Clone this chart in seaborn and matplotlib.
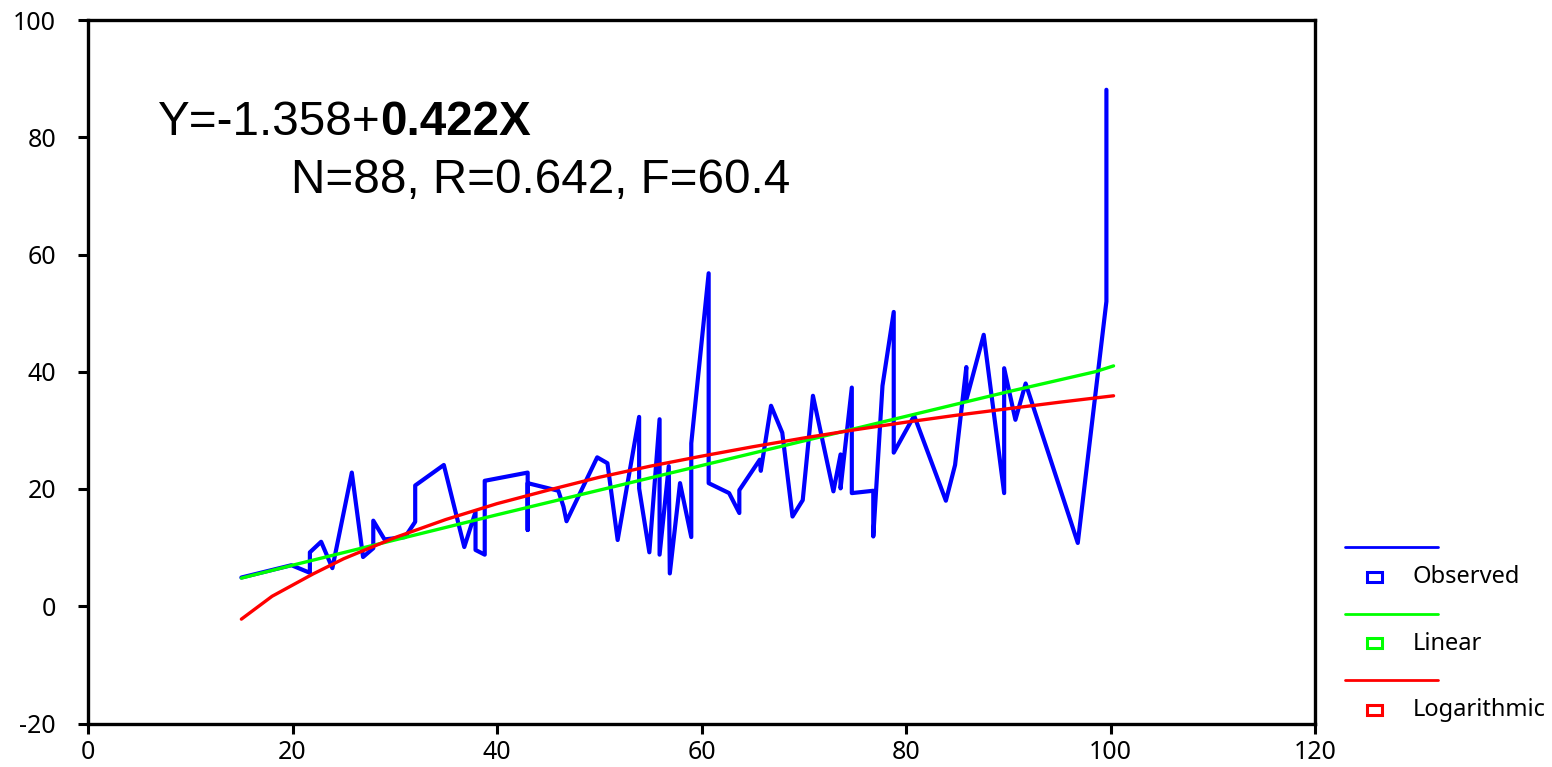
import matplotlib
matplotlib.use("Agg")
import matplotlib.pyplot as plt
import seaborn as sns
from matplotlib.lines import Line2D
from matplotlib.patches import Rectangle

obs_x = [15.0, 19.9, 21.7, 21.7, 22.8, 23.9, 25.8, 26.9, 27.9, 27.9, 29.0, 31.0, 32.0, 32.0,
         34.8, 36.8, 37.9, 37.9, 38.8, 38.8, 43.0, 43.0, 43.0, 46.0, 46.5, 46.8, 49.8, 50.8,
         51.8, 53.9, 53.9, 54.9, 55.9, 55.9, 56.8, 56.9, 57.9, 59.0, 59.0, 60.7, 60.7, 62.7,
         63.7, 63.7, 65.7, 65.8, 66.8, 67.9, 68.9, 69.9, 70.9, 72.9, 73.6, 73.6, 74.7, 74.7,
         76.8, 76.8, 77.7, 78.8, 78.8, 80.8, 83.9, 84.8, 85.9, 85.9, 87.6, 89.6, 89.6, 90.7,
         91.7, 96.8, 99.6, 99.6, 99.6]
obs_y = [4.9, 7.0, 5.7, 9.2, 11.0, 6.5, 22.8, 8.4, 9.9, 14.6, 11.4, 11.8, 14.4, 20.6,
         24.1, 10.1, 16.1, 9.6, 8.8, 21.4, 22.8, 13.0, 21.0, 19.7, 17.0, 14.5, 25.4, 24.4,
         11.3, 32.3, 20.1, 9.2, 31.9, 8.8, 23.9, 5.6, 21.0, 11.8, 27.8, 56.8, 21.0, 19.3,
         15.9, 19.8, 25.0, 23.1, 34.2, 29.6, 15.3, 18.1, 35.9, 19.6, 25.9, 20.1, 37.3, 19.3,
         19.7, 11.9, 37.6, 50.2, 26.2, 32.5, 18.0, 24.1, 40.8, 35.2, 46.3, 19.3, 40.6, 31.8,
         38.0, 10.8, 52.0, 83.5, 88.1]

# Linear fit curve
lin_x = [15, 20, 30, 40, 50, 60, 70, 80, 90, 98.5, 100.3]
lin_y = [4.8, 7.0, 11.3, 15.6, 19.8, 24.0, 28.2, 32.4, 36.6, 40.0, 41.0]

# Logarithmic fit curve
log_x = [15, 18, 20, 22, 25, 30, 35, 40, 45, 50, 55, 60, 65, 70, 75, 80, 85, 90, 95, 100.3]
log_y = [-2.2, 1.7, 3.6, 5.5, 8.1, 11.7, 14.8, 17.5, 19.8, 22.0, 23.9, 25.6, 27.2, 28.7,
         30.1, 31.4, 32.6, 33.7, 34.8, 35.9]

series_names = ["Observed", "Linear", "Logarithmic"]
series_colors = ["#0000ff", "#00ff00", "#ff0000"]

eq_text = "Y=-1.358+"
eq_bold = "0.422X"
stats_text = "N=88, R=0.642, F=60.4"

sns.set_style("ticks")
plt.rcParams["font.family"] = ["Noto Sans", "DejaVu Sans"]
plt.rcParams["axes.unicode_minus"] = False
plt.rcParams["text.color"] = "black"

fig = plt.figure(figsize=(15.52, 7.67), dpi=100)
ax = fig.add_axes([88 / 1552, 1 - 723.5 / 767, (1315 - 88) / 1552, (723.5 - 20) / 767])

sns.lineplot(x=obs_x, y=obs_y, estimator=None, sort=False, color=series_colors[0], lw=3.0, ax=ax)
sns.lineplot(x=lin_x, y=lin_y, estimator=None, sort=False, color=series_colors[1], lw=2.4, ax=ax)
sns.lineplot(x=log_x, y=log_y, estimator=None, sort=False, color=series_colors[2], lw=2.4, ax=ax)

ax.set_xlim(0, 120)
ax.set_ylim(-20, 100)
ax.set_xticks(range(0, 121, 20))
ax.set_yticks(range(-20, 101, 20))
ax.tick_params(axis="both", direction="out", length=7, width=2.2, labelsize=18,
               colors="black", labelcolor="black")
ax.tick_params(axis="x", pad=5)
ax.tick_params(axis="y", pad=16)
for s in ax.spines.values():
    s.set_visible(True)
    s.set_linewidth(2.4)
    s.set_color("black")
ax.set_xlabel("")
ax.set_ylabel("")

t1 = ax.text(6.8, 80.3, eq_text, fontsize=34.3, family="Liberation Sans", va="baseline",
             ha="left", color="black")
ax.annotate(eq_bold, xy=(1, 0), xycoords=t1, fontsize=34.3, family="Liberation Sans",
            fontweight="bold", va="bottom", ha="left", color="black")
ax.text(19.9, 70.5, stats_text, fontsize=34.3, family="Liberation Sans", va="baseline",
        ha="left", color="black")

# legend drawn on its own little axes (pixel-like coordinates)
lax = fig.add_axes([1330 / 1552, 1 - 730 / 767, 222 / 1552, 200 / 767])
lax.set_xlim(0, 222)
lax.set_ylim(200, 0)
lax.axis("off")
for i, (name, col) in enumerate(zip(series_names, series_colors)):
    y0 = 17 + i * 66.7
    lax.add_line(Line2D([15, 108], [y0, y0], color=col, lw=2))
    lax.add_patch(Rectangle((37, y0 + 24.5), 15, 10, fill=False, edgecolor=col, lw=2.2))
    lax.text(83, y0 + 30, name, fontsize=17, va="center", ha="left", color="black")

fig.savefig("out.png", dpi=100, facecolor="white")
